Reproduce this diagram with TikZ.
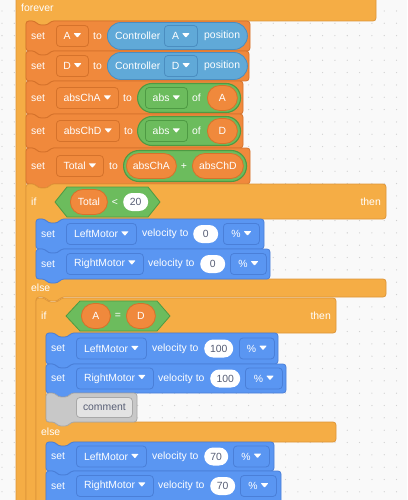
\documentclass[tikz,border=0pt]{standalone}
\usepackage{fontspec}
\setmainfont{Liberation Sans}
\usepackage{xcolor}
\usetikzlibrary{shapes.misc, positioning}

\definecolor{bgc}{HTML}{F9F9F9}
\definecolor{dotc}{HTML}{D0D0D0}
\definecolor{ctrlc}{HTML}{F5AD45}
\definecolor{ctrlline}{HTML}{DE9538}
\definecolor{varc}{HTML}{F0893C}
\definecolor{varline}{HTML}{D5722B}
\definecolor{motc}{HTML}{5A96F2}
\definecolor{motline}{HTML}{4A7FD8}
\definecolor{opc}{HTML}{6CBC5D}
\definecolor{opline}{HTML}{4E9A43}
\definecolor{senc}{HTML}{60A9D8}
\definecolor{senline}{HTML}{4A8DC0}
\definecolor{cmtc}{HTML}{C8C8C8}
\definecolor{cmtline}{HTML}{A8A8A8}
\definecolor{cmtfld}{HTML}{E3E3E3}
\definecolor{numtxt}{HTML}{575E75}

\newcommand{\blk}{\fontsize{10.4}{12}\selectfont}
\newcommand{\dtri}{\tikz[baseline=0pt,x=1pt,y=1pt]\fill[white,draw=none,rounded corners=0.6pt] (0,6.4)--(7.6,6.4)--(3.8,1.9)--cycle;}
\newcommand{\fldtri}{\hspace{3pt}\dtri}
% stack block with top notch and bottom tab: x0, y0, x1, y1, style
\newcommand{\stackblk}[5]{%
  \filldraw[#5] (#1,#2) -- ({#1+9},#2) -- ({#1+12},{#2+4}) -- ({#1+22},{#2+4}) -- ({#1+25},#2)
    -- (#3,#2) -- (#3,#4) -- ({#1+25},#4) -- ({#1+22},{#4+4}) -- ({#1+12},{#4+4})
    -- ({#1+9},#4) -- (#1,#4) -- cycle;}

\begin{document}
\begin{tikzpicture}[x=1pt, y=-1pt, line join=round,
  lbl/.style={text=white, font=\blk, inner sep=0pt, anchor=west},
  sym/.style={text=white, font=\blk, inner sep=0pt},
  fieldbox/.style={line width=0.8pt, rounded corners=3.5pt, minimum height=21pt,
    inner sep=0pt, text=white, font=\blk, anchor=west},
  varfld/.style={fieldbox, fill=varc, draw=varline},
  senfld/.style={fieldbox, fill=senc, draw=senline},
  opfld/.style={fieldbox, fill=opc, draw=opline},
  motfld/.style={fieldbox, fill=motc, draw=motline},
  cmtbox/.style={fieldbox, fill=cmtfld, draw=cmtline, minimum height=20pt, text=numtxt},
  sencap/.style={rounded rectangle, fill=senc, draw=senline, line width=0.8pt,
    minimum height=27pt, inner sep=0pt, anchor=west},
  opcap/.style={rounded rectangle, fill=opc, draw=opline, line width=1.1pt,
    minimum height=29pt, inner sep=0pt, anchor=west},
  varcap/.style={rounded rectangle, fill=varc, draw=varline, line width=0.8pt,
    minimum height=25pt, inner sep=0pt, text=white, font=\blk, anchor=west},
  numcap/.style={rounded rectangle, fill=white, minimum height=18pt, inner sep=0pt,
    text=numtxt, font=\blk, anchor=west},
  ctrlblk/.style={fill=ctrlc, draw=ctrlline, line width=0.8pt, rounded corners=3pt},
  varblk/.style={fill=varc, draw=varline, line width=0.8pt, rounded corners=3pt},
  motblk/.style={fill=motc, draw=motline, line width=0.8pt, rounded corners=3pt},
  cmtblk/.style={fill=cmtc, draw=cmtline, line width=0.8pt, rounded corners=3pt},
  hexa/.style={fill=opc, draw=opline, line width=0.8pt}]

\useasboundingbox (0,0) rectangle (407,500);
\clip (0,0) rectangle (407,500);
\fill[bgc] (0,0) rectangle (407,500);
\foreach \i in {0,...,33}{
  \foreach \j in {0,...,40}{
    \fill[dotc] ({2+12.33*\i},{10.95+12.33*\j}) circle (0.65);
  }
}

% forever
\filldraw[ctrlblk] (16,-5) -- (376,-5) -- (376,21) -- (51,21) -- (48,25) -- (38,25) -- (35,21)
  -- (26,21) -- (26,505) -- (16,505) -- cycle;
\node[lbl] (forever) at (21,8) {forever};

% set A
\stackblk{26}{21}{250}{51}{varblk}
\node[lbl] (setA) at (31,36) {set};
\node[varfld, minimum width=32pt] (varA) at (56,36) {A\fldtri};
\node[lbl] (toA) at (93,36) {to};
\node[sencap, minimum width=140pt] (ctrlA) at (107,36) {};
\node[lbl, right=8pt of ctrlA.west] (txtCtrlA) {Controller};
\node[senfld, minimum width=33pt] (axisA) at (164,36) {A\fldtri};
\node[lbl] (posA) at (204,36) {position};

% set D
\stackblk{26}{51}{249}{81}{varblk}
\node[lbl] (setD) at (31,66) {set};
\node[varfld, minimum width=32pt] (varD) at (56,66) {D\fldtri};
\node[lbl] (toD) at (93,66) {to};
\node[sencap, minimum width=140pt] (ctrlD) at (107,66) {};
\node[lbl, right=8pt of ctrlD.west] (txtCtrlD) {Controller};
\node[senfld, minimum width=33pt] (axisD) at (164,66) {D\fldtri};
\node[lbl] (posD) at (204,66) {position};

% set absChA
\stackblk{26}{81}{243}{114}{varblk}
\node[lbl] (setChA) at (31,98) {set};
\node[varfld, minimum width=62pt] (varChA) at (56,98) {absChA\fldtri};
\node[lbl] (toChA) at (123,98) {to};
\node[opcap, minimum width=103pt] (absOpA) at (137,98) {};
\node[opfld, minimum width=42pt] (absFldA) at (145,98) {abs\fldtri};
\node[lbl] (ofA) at (192,98) {of};
\node[varcap, minimum width=30pt] (repA) at (207,98) {A};

% set absChD
\stackblk{26}{114}{243}{148}{varblk}
\node[lbl] (setChD) at (31,131) {set};
\node[varfld, minimum width=63pt] (varChD) at (56,131) {absChD\fldtri};
\node[lbl] (toChD) at (124,131) {to};
\node[opcap, minimum width=103pt] (absOpD) at (137,131) {};
\node[opfld, minimum width=42pt] (absFldD) at (145,131) {abs\fldtri};
\node[lbl] (ofD) at (192,131) {of};
\node[varcap, minimum width=30pt] (repD) at (207,131) {D};

% set Total
\stackblk{26}{148}{250}{184}{varblk}
\node[lbl] (setTot) at (31,166) {set};
\node[varfld, minimum width=47pt] (varTot) at (56,166) {Total\fldtri};
\node[lbl] (toTot) at (109,166) {to};
\node[opcap, minimum width=123pt, minimum height=31pt] (sumOp) at (123,166) {};
\node[varcap, minimum width=50pt] (repChA) at (126,166) {absChA};
\node[sym] (plus) at (184,166) {+};
\node[varcap, minimum width=51pt] (repChD) at (192,166) {absChD};

% if Total < 20
\filldraw[ctrlblk] (26,184) -- (35,184) -- (38,188) -- (48,188) -- (51,184) -- (386,184)
  -- (386,219) -- (61,219) -- (58,223) -- (48,223) -- (45,219) -- (36,219) -- (36,279)
  -- (386,279) -- (386,297) -- (61,297) -- (58,301) -- (48,301) -- (45,297) -- (36,297)
  -- (36,505) -- (26,505) -- cycle;
\node[lbl] (ifOut) at (31,202) {if};
\filldraw[hexa] (55,202) -- (67,187) -- (148,187) -- (160,202) -- (148,217) -- (67,217) -- cycle;
\node[varcap, minimum width=37pt] (repTot) at (70,202) {Total};
\node[sym] (less) at (115,202) {<};
\node[numcap, minimum width=25pt] (num20) at (123,202) {20};
\node[lbl, anchor=east] (thenOut) at (381,202) {then};

% then: stop motors
\stackblk{36}{219}{264}{249}{motblk}
\node[lbl] (setL0) at (41,234) {set};
\node[motfld, minimum width=70pt] (fldL0) at (66,234) {LeftMotor\fldtri};
\node[lbl] (velL0) at (142,234) {velocity to};
\node[numcap, minimum width=25pt] (numL0) at (193,234) {0};
\node[motfld, minimum width=36pt] (pctL0) at (223,234) {\%\fldtri};

\stackblk{36}{249}{270}{279}{motblk}
\node[lbl] (setR0) at (41,264) {set};
\node[motfld, minimum width=77pt] (fldR0) at (66,264) {RightMotor\fldtri};
\node[lbl] (velR0) at (148,264) {velocity to};
\node[numcap, minimum width=25pt] (numR0) at (200,264) {0};
\node[motfld, minimum width=36pt] (pctR0) at (230,264) {\%\fldtri};

\node[lbl] (elseOut) at (31,288) {else};

% if A = D
\filldraw[ctrlblk] (36,298) -- (45,298) -- (48,302) -- (58,302) -- (61,298) -- (336,298)
  -- (336,333) -- (71,333) -- (68,337) -- (58,337) -- (55,333) -- (46,333) -- (46,422)
  -- (336,422) -- (336,442) -- (71,442) -- (68,446) -- (58,446) -- (55,442) -- (46,442)
  -- (46,505) -- (36,505) -- cycle;
\node[lbl] (ifIn) at (41,316) {if};
\filldraw[hexa] (66,316) -- (80,301) -- (157,301) -- (170,316) -- (157,331) -- (80,331) -- cycle;
\node[varcap, minimum width=29pt] (eqA) at (81,316) {A};
\node[sym] (equal) at (118,316) {=};
\node[varcap, minimum width=29pt] (eqD) at (126,316) {D};
\node[lbl, anchor=east] (thenIn) at (331,316) {then};

% then: full speed
\stackblk{46}{333}{278}{364}{motblk}
\node[lbl] (setL100) at (51,348.5) {set};
\node[motfld, minimum width=70pt] (fldL100) at (76,348.5) {LeftMotor\fldtri};
\node[lbl] (velL100) at (152,348.5) {velocity to};
\node[numcap, minimum width=29pt] (numL100) at (204,348.5) {100};
\node[motfld, minimum width=35pt] (pctL100) at (239,348.5) {\%\fldtri};

\stackblk{46}{364}{286}{393}{motblk}
\node[lbl] (setR100) at (51,378.5) {set};
\node[motfld, minimum width=77pt] (fldR100) at (76,378.5) {RightMotor\fldtri};
\node[lbl] (velR100) at (158,378.5) {velocity to};
\node[numcap, minimum width=30pt] (numR100) at (210,378.5) {100};
\node[motfld, minimum width=37pt] (pctR100) at (245,378.5) {\%\fldtri};

\stackblk{46}{393}{137}{422}{cmtblk}
\node[cmtbox, minimum width=56pt] (cmt) at (76,407.5) {comment};

\node[lbl] (elseIn) at (41,432) {else};

% else: reduced speed
\stackblk{46}{442}{274}{471}{motblk}
\node[lbl] (setL70) at (51,456.5) {set};
\node[motfld, minimum width=70pt] (fldL70) at (76,456.5) {LeftMotor\fldtri};
\node[lbl] (velL70) at (152,456.5) {velocity to};
\node[numcap, minimum width=24pt] (numL70) at (204,456.5) {70};
\node[motfld, minimum width=36pt] (pctL70) at (233,456.5) {\%\fldtri};

\stackblk{46}{471}{281}{505}{motblk}
\node[lbl] (setR70) at (51,486) {set};
\node[motfld, minimum width=77pt] (fldR70) at (76,486) {RightMotor\fldtri};
\node[lbl] (velR70) at (158,486) {velocity to};
\node[numcap, minimum width=25pt] (numR70) at (210,486) {70};
\node[motfld, minimum width=36pt] (pctR70) at (240,486) {\%\fldtri};
\end{tikzpicture}
\end{document}
